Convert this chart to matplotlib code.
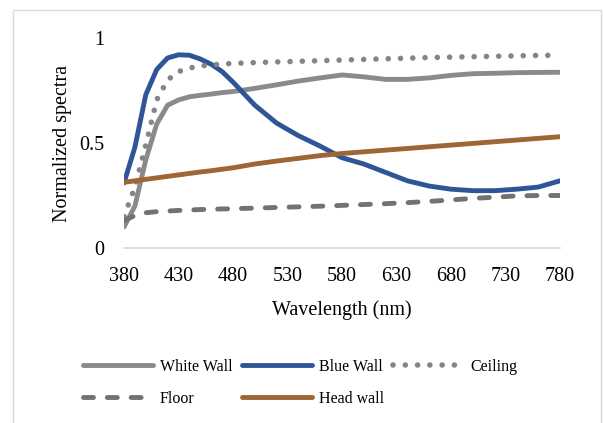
import matplotlib.pyplot as plt
from matplotlib.patches import Rectangle

plt.rcParams['font.family'] = ['Liberation Serif', 'DejaVu Serif']

wl = [380, 390, 400, 410, 420, 430, 440, 450, 460, 470, 480, 500, 520, 540,
      560, 580, 600, 620, 640, 660, 680, 700, 720, 740, 760, 780]

white_wall = [0.10, 0.20, 0.42, 0.59, 0.68, 0.705, 0.72, 0.727, 0.733, 0.74, 0.745,
              0.76, 0.777, 0.795, 0.81, 0.824, 0.815, 0.803, 0.803, 0.81, 0.822,
              0.83, 0.832, 0.835, 0.836, 0.837]
blue_wall = [0.31, 0.48, 0.73, 0.85, 0.905, 0.92, 0.918, 0.90, 0.875, 0.84, 0.79,
             0.68, 0.595, 0.535, 0.485, 0.43, 0.40, 0.36, 0.32, 0.295, 0.28,
             0.273, 0.273, 0.28, 0.29, 0.32]
ceiling = [0.15, 0.29, 0.49, 0.705, 0.80, 0.84, 0.857, 0.867, 0.872, 0.876, 0.879,
           0.883, 0.886, 0.889, 0.892, 0.895, 0.898, 0.901, 0.904, 0.907, 0.909,
           0.911, 0.913, 0.915, 0.917, 0.918]
floor = [0.13, 0.155, 0.168, 0.173, 0.176, 0.179, 0.181, 0.183, 0.185, 0.186, 0.187,
         0.19, 0.193, 0.196, 0.199, 0.203, 0.207, 0.211, 0.216, 0.222, 0.229,
         0.236, 0.242, 0.248, 0.25, 0.25]
head_wall = [0.313, 0.32, 0.327, 0.334, 0.341, 0.348, 0.355, 0.362, 0.368, 0.375, 0.382,
             0.40, 0.414, 0.427, 0.44, 0.45, 0.458, 0.466, 0.474, 0.482, 0.49,
             0.498, 0.506, 0.514, 0.522, 0.53]

xticks = [380, 430, 480, 530, 580, 630, 680, 730, 780]
yticks = [0, 0.5, 1]
ytick_labels = ['0', '0.5', '1']

fig = plt.figure(figsize=(6.04, 4.23), dpi=100)
# light chart-area border
fig.patches.append(Rectangle((13 / 604, -0.05), 588 / 604, 1.05 - 10 / 423,
                             transform=fig.transFigure, fill=False,
                             edgecolor='#d9d9d9', linewidth=1))

ax = fig.add_axes([124 / 604, 175 / 423, 436 / 604, 210 / 423])

lw = 3.5
l1, = ax.plot(wl, white_wall, color='#8a8a8a', lw=lw, solid_capstyle='round', label='White Wall')
l2, = ax.plot(wl, blue_wall, color='#2f5597', lw=lw, solid_capstyle='round', label='Blue Wall')
l3, = ax.plot(wl, ceiling, color='#858585', lw=4.0, dashes=(0.01, 2.2),
              dash_capstyle='round', label='Ceiling')
l4, = ax.plot(wl, floor, color='#767171', lw=lw, dashes=(2.05, 2.85),
              dash_capstyle='round', label='Floor')
l5, = ax.plot(wl, head_wall, color='#9e6634', lw=lw, solid_capstyle='round', label='Head wall')

ax.set_xlim(380, 780)
ax.set_ylim(0, 1)
ax.set_xticks(xticks)
ax.set_yticks(yticks)
ax.set_yticklabels(ytick_labels)
ax.tick_params(length=0, labelsize=14.5)
ax.tick_params(axis='x', pad=14)
ax.tick_params(axis='y', pad=14)
for s in ['top', 'right', 'left']:
    ax.spines[s].set_visible(False)
ax.spines['bottom'].set_color('#d9d9d9')
ax.spines['bottom'].set_linewidth(1.2)
ax.set_xlabel('Wavelength (nm)', fontsize=14.5, labelpad=10)
ax.set_ylabel('Normalized spectra', fontsize=14.5, labelpad=5)

fig.legend([l1, l4, l2, l5, l3], ['White Wall', 'Floor', 'Blue Wall', 'Head wall', 'Ceiling'],
           ncol=3, loc='center', bbox_to_anchor=(300 / 604, 40 / 423), frameon=False,
           fontsize=11.5, handlelength=4.4, handletextpad=0.4, columnspacing=0.6,
           labelspacing=1.0)

fig.savefig('out.png', dpi=100)
